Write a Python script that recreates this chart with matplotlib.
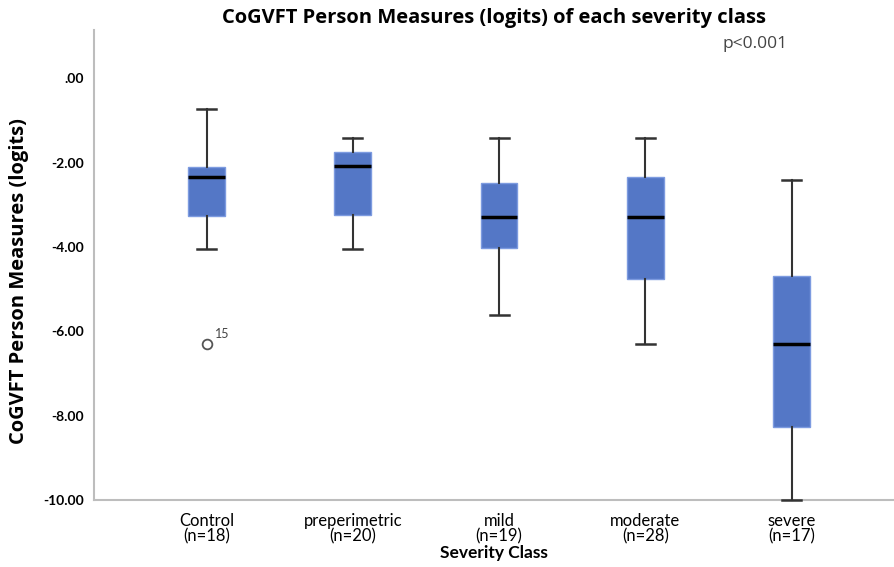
import matplotlib.pyplot as plt
from matplotlib.ticker import FuncFormatter

plt.rcParams['font.family'] = ['Lato', 'DejaVu Sans']

# Severity classes and group sizes
classes = ['Control', 'preperimetric', 'mild', 'moderate', 'severe']
n_sizes = [18, 20, 19, 28, 17]

# Box plot summaries (logits)
whisker_low = [-4.05, -4.05, -5.62, -6.30, -10.0]
q1 = [-3.27, -3.25, -4.03, -4.76, -8.27]
medians = [-2.34, -2.09, -3.29, -3.29, -6.30]
q3 = [-2.11, -1.75, -2.49, -2.35, -4.69]
whisker_high = [-0.72, -1.42, -1.42, -1.42, -2.42]

# Outliers: (class index, value, case number)
outliers = [(0, -6.30, '15')]

stats = []
for i, name in enumerate(classes):
    fl = [v for (j, v, _) in outliers if j == i]
    stats.append(dict(label=f'{name}\n(n={n_sizes[i]})', whislo=whisker_low[i], q1=q1[i],
                      med=medians[i], q3=q3[i], whishi=whisker_high[i], fliers=fl))

fig = plt.figure(figsize=(8.94, 5.67), dpi=100)
ax = fig.add_axes([0.105, 0.118, 0.895, 0.829])

bp = ax.bxp(stats, positions=range(len(classes)), widths=0.25, patch_artist=True,
            boxprops=dict(facecolor='#5477c6', edgecolor='#7d9be0', linewidth=1),
            medianprops=dict(color='black', linewidth=2.5),
            whiskerprops=dict(color='#333333', linewidth=1.5),
            capprops=dict(color='#333333', linewidth=1.8),
            capwidths=0.13,
            flierprops=dict(marker='o', markerfacecolor='none', markeredgecolor='#555555',
                            markersize=7, markeredgewidth=1.3))
for art in bp['caps'] + bp['whiskers']:
    art.set_clip_on(False)
    art.set_zorder(5)

for j, v, case in outliers:
    ax.annotate(case, (j, v), xytext=(6, 4), textcoords='offset points',
                fontsize=9, color='#444444')

ax.set_xlim(-0.77, 4.7)
ax.set_ylim(-10, 1.14)
ax.set_yticks([0, -2, -4, -6, -8, -10])
ax.yaxis.set_major_formatter(FuncFormatter(lambda v, p: '.00' if v == 0 else f'{v:.2f}'))

for s in ['top', 'right']:
    ax.spines[s].set_visible(False)
for s in ['left', 'bottom']:
    ax.spines[s].set_color('#bdbdbd')
    ax.spines[s].set_linewidth(1.5)

ax.tick_params(axis='both', length=0)
ax.tick_params(axis='y', labelsize=10, pad=7)
ax.tick_params(axis='x', labelsize=12, pad=9)
for t in ax.get_yticklabels():
    t.set_fontweight('bold')
for t in ax.get_xticklabels():
    t.set_linespacing(0.95)

ax.set_title('CoGVFT Person Measures (logits) of each severity class',
             fontsize=14.5, fontweight='bold', pad=5, family=['Open Sans', 'DejaVu Sans'])
fig.text(0.021, 0.505, 'CoGVFT Person Measures (logits)', rotation=90, fontsize=14.5,
         fontweight='bold', ha='center', va='center', family=['Open Sans', 'DejaVu Sans'])
ax.set_xlabel('Severity Class', fontsize=12.5, fontweight='bold', labelpad=1)

ax.text(3.75, 0.81, 'p<0.001', fontsize=12.5, color='#444444', ha='center', va='center',
        family=['Open Sans', 'DejaVu Sans'])

fig.savefig('out.png', dpi=100)
